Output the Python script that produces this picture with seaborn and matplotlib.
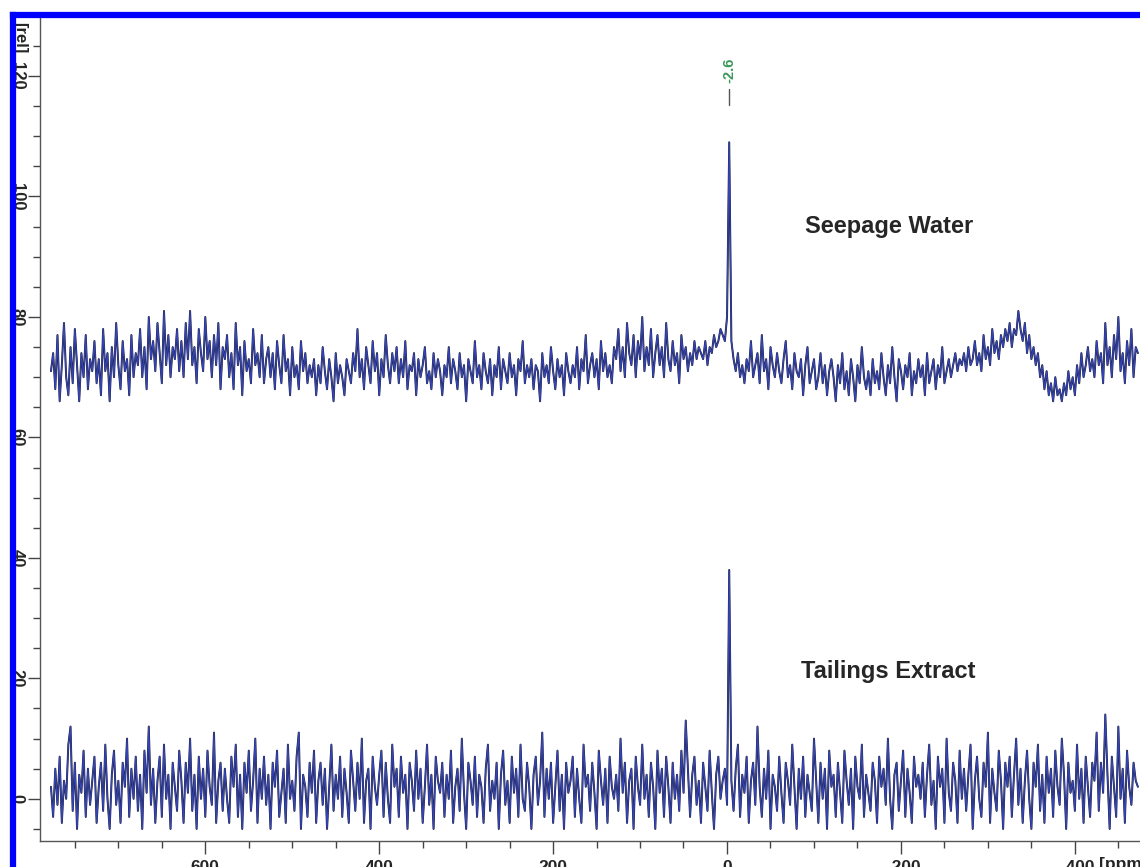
import numpy as np
import pandas as pd
import matplotlib
matplotlib.use("Agg")
import matplotlib.pyplot as plt
from matplotlib.lines import Line2D
from matplotlib.ticker import MultipleLocator
import seaborn as sns

# ==============================
# DATA
# ==============================
# chemical shift axis: 777.4 ppm down to -472.6 ppm in 2.5 ppm steps (peak sits at -2.6)
ppm_start = 777.4
ppm_step = 2.5

seepage = [
    71, 74, 68, 77, 66, 72, 79, 70, 67, 75, 69, 78, 72, 66, 74, 70, 77, 68, 73, 71,
    76, 69, 73, 67, 78, 71, 74, 66, 75, 70, 79, 72, 68, 76, 71, 73, 67, 77, 70, 74,
    72, 78, 70, 75, 68, 80, 73, 76, 71, 79, 74, 69, 81, 72, 77, 70, 75, 73, 78, 71,
    76, 70, 79, 73, 81, 72, 75, 69, 78, 74, 71, 80, 73, 76, 70, 77, 72, 79, 68, 75,
    73, 77, 70, 74, 68, 79, 72, 75, 67, 76, 71, 73, 69, 78, 72, 74, 70, 77, 69, 73,
    75, 70, 74, 68, 76, 72, 69, 77, 71, 73, 67, 75, 70, 72, 68, 76, 71, 74, 69, 72,
    70, 73, 67, 72, 69, 75, 71, 68, 73, 70, 66, 74, 69, 72, 70, 67, 73, 71, 69, 74,
    71, 78, 70, 73, 68, 75, 72, 69, 76, 71, 74, 67, 73, 70, 77, 72, 69, 74, 71, 75,
    69, 73, 70, 76, 68, 72, 71, 74, 67, 73, 70, 72, 75, 69, 71, 68, 74, 70, 73, 71,
    67, 72, 70, 75, 69, 73, 71, 68, 74, 70, 72, 66, 73, 71, 69, 76, 70, 72, 68, 74,
    71, 69, 73, 67, 72, 70, 75, 68, 73, 71, 69, 74, 70, 72, 67, 73, 71, 76, 69, 72,
    70, 73, 68, 72, 71, 66, 74, 70, 72, 69, 75, 71, 68, 73, 70, 72, 67, 74, 71, 69,
    72, 70, 75, 68, 73, 71, 77, 69, 72, 74, 70, 73, 68, 76, 71, 74, 70, 72, 69, 75,
    73, 78, 71, 75, 70, 79, 74, 72, 77, 70, 76, 73, 80, 71, 75, 72, 78, 70, 74, 77,
    72, 75, 70, 79, 73, 71, 76, 72, 74, 69, 77, 73, 75, 71, 74, 72, 76, 73, 75, 74,
    73, 76, 72, 75, 74, 77, 75, 76, 78, 77, 76, 80, 109, 76, 73, 71, 74, 70, 72, 69,
    73, 71, 76, 70, 72, 74, 69, 77, 71, 73, 68, 75, 72, 70, 74, 71, 69, 73, 76, 70,
    72, 68, 74, 71, 70, 73, 67, 72, 75, 69, 71, 73, 68, 70, 74, 69, 72, 67, 71, 73,
    70, 66, 72, 69, 74, 68, 71, 67, 73, 70, 66, 72, 69, 75, 70, 68, 71, 67, 73, 69,
    71, 68, 74, 70, 67, 72, 69, 75, 70, 66, 73, 71, 68, 72, 70, 74, 67, 71, 69, 73,
    70, 72, 67, 74, 69, 71, 73, 68, 72, 70, 75, 69, 71, 73, 70, 72, 74, 71, 73, 72,
    74, 71, 75, 72, 73, 76, 72, 74, 71, 77, 73, 75, 72, 78, 74, 76, 73, 77, 75, 78,
    76, 79, 75, 78, 77, 81, 78, 76, 79, 74, 77, 73, 75, 72, 74, 70, 72, 68, 71, 67,
    69, 66, 70, 67, 68, 66, 69, 67, 71, 68, 70, 67, 72, 69, 74, 70, 72, 75, 71, 73,
    70, 76, 72, 74, 69, 79, 72, 75, 70, 77, 73, 80, 71, 74, 69, 76, 72, 78, 70, 75,
    74,
]

tailings = [
    2, -3, 5, -1, 7, -4, 3, 0, 9, 12, -2, 6, -5, 4, 1, 8, -3, 5, -1, 3,
    7, -4, 2, 6, -2, 9, 0, -5, 4, 8, -1, 3, -4, 6, 2, 10, -3, 5, 0, 7,
    -2, 4, -5, 8, 1, 12, -1, 5, -4, 3, 7, -3, 9, 0, 4, -5, 6, 2, -2, 8,
    3, -4, 6, 1, 10, -2, 4, -5, 7, 0, 5, -3, 8, 2, -1, 11, -4, 3, 6, -2,
    5, 0, -4, 7, 2, 9, -3, 4, -5, 6, 1, 8, -2, 3, 10, -4, 5, 0, 7, -1,
    4, -5, 6, 2, 8, -3, 1, 5, -4, 9, 0, 3, -2, 7, 11, -5, 4, 2, -3, 6,
    1, 8, -4, 3, 6, -1, 5, -5, 2, 9, -2, 4, 0, 7, -3, 5, 1, -4, 8, 3,
    -2, 6, 0, 10, -4, 3, 5, -5, 7, 2, -1, 4, 8, -3, 6, 0, -4, 9, 2, 5,
    -3, 7, 1, 4, -5, 6, 3, -2, 8, 0, 5, -4, 2, 9, -1, 4, -5, 7, 3, 1,
    6, -3, 4, 0, 8, -4, 2, 5, -2, 10, 1, -5, 6, 3, -1, 7, -3, 4, 2, -4,
    5, 9, -2, 3, 0, 6, -5, 4, 8, -1, 3, -4, 7, 1, 5, -3, 9, 0, -2, 6,
    2, -5, 4, 7, -1, 3, 11, -3, 5, 0, 6, -4, 2, 8, -2, 4, -5, 6, 1, 3,
    7, -3, 5, 0, -4, 9, 2, 4, -2, 6, 1, -5, 8, 3, -1, 5, -4, 7, 2, 0,
    4, -2, 10, 1, 6, -4, 3, 5, -5, 7, 2, -1, 9, 0, 4, -3, 6, 2, -5, 8,
    1, 5, -3, 7, 2, -4, 6, 0, 4, -2, 8, 1, 13, 5, -3, 4, 7, -1, 3, -4,
    6, 2, -2, 8, 1, -5, 4, 7, 0, 3, 5, -1, 38, 3, -2, 5, 9, -3, 4, 1,
    7, -4, 3, 6, -1, 12, 2, -3, 5, 0, 8, -5, 4, 2, -2, 7, 1, -4, 6, 3,
    -1, 9, 2, -5, 5, 0, 7, -3, 4, 1, -2, 10, 3, -4, 6, 0, 5, -5, 8, 2,
    4, -3, 6, 1, -4, 8, 3, -1, 5, -5, 7, 2, 0, 9, -3, 4, 1, -2, 6, 3,
    -4, 7, 2, 5, -1, 10, 0, -5, 4, 6, -2, 3, 8, -3, 5, 1, -4, 7, 2, 4,
    0, 6, -3, 4, 9, -1, 3, -5, 7, 2, 5, -4, 10, 1, -2, 6, 3, -4, 8, 0,
    5, -2, 4, 9, -5, 3, 7, 0, -3, 6, 2, 11, -4, 5, 1, -2, 8, 3, -5, 6,
    2, 7, -3, 4, 10, -1, 5, -4, 3, 8, 0, -5, 6, 2, 9, -2, 4, -4, 7, 1,
    5, -3, 8, 2, -1, 10, 4, -5, 6, 1, 3, -2, 9, 0, 5, -4, 7, 2, -3, 6,
    3, 11, -2, 6, 1, 14, 4, -5, 7, 2, -3, 12, 0, 5, -4, 8, 2, -1, 6, 3,
    2,
]

peak_label = "-2.6"
peak_ppm = -2.6
x_ticks = [600, 400, 200, 0, -200, -400]
x_tick_labels = ["600", "400", "200", "0", "- 200", "- 400"]
y_ticks = [0, 20, 40, 60, 80, 100, 120]

ppm = ppm_start - ppm_step * np.arange(len(seepage))
df = pd.DataFrame({"ppm": np.concatenate([ppm, ppm]),
                   "intensity": seepage + tailings,
                   "sample": ["Seepage Water"] * len(ppm) + ["Tailings Extract"] * len(ppm)})

# ==============================
# PLOT
# ==============================
sns.set_style("ticks")
plt.rcParams['font.family'] = ['Liberation Sans', 'DejaVu Sans']

fig = plt.figure(figsize=(11.4, 8.67), dpi=100)
ax = fig.add_axes([40 / 1140, 1 - 841 / 867, 1 - 40 / 1140, (841 - 17) / 867])

for name in ["Seepage Water", "Tailings Extract"]:
    sub = df[df["sample"] == name]
    sns.lineplot(data=sub, x="ppm", y="intensity", sort=False, estimator=None,
                 color="#1c1c2c", linewidth=1.4, ax=ax)
    sns.lineplot(data=sub, x="ppm", y="intensity", sort=False, estimator=None,
                 color="#3444b4", linewidth=0.9, ax=ax)

ax.set_xlim(790, -475)
ax.set_ylim(-7, 129.8)
ax.set_xlabel("")
ax.set_ylabel("")

ax.set_xticks(x_ticks)
ax.set_xticklabels(x_tick_labels, fontsize=12.5, fontweight="bold")
ax.xaxis.set_minor_locator(MultipleLocator(50))
ax.set_yticks(y_ticks)
ax.set_yticklabels([str(v) for v in y_ticks], fontsize=12, fontweight="bold",
                   rotation=-90, va="center")
ax.yaxis.set_minor_locator(MultipleLocator(5))
ax.tick_params(which="major", length=9, width=1, color="#444444")
ax.tick_params(which="minor", length=5, width=1, color="#444444")
ax.tick_params(axis="y", pad=2)
ax.tick_params(axis="x", pad=5)

sns.despine(ax=ax, top=True, right=True)
for s in ["left", "bottom"]:
    ax.spines[s].set_color("#555555")
    ax.spines[s].set_linewidth(1)

# axis unit labels
ax.text(-0.012, 0.975, "[rel]", transform=ax.transAxes, rotation=-90,
        ha="right", va="center", fontsize=12, fontweight="bold")
ax.text(0.985, -0.019, "[ppm]", transform=ax.transAxes, ha="center", va="top",
        fontsize=12.5, fontweight="bold")

# peak label
ax.text(peak_ppm, 121, peak_label, rotation=90, ha="center", va="center",
        color="#3a9a5a", fontsize=10.5, fontweight="bold")
ax.plot([peak_ppm, peak_ppm], [115.2, 117.9], color="#555555", lw=1)

# sample names
ax.text(-187, 95.1, "Seepage Water", ha="center", va="center", fontsize=17, fontweight="bold")
ax.text(-185, 21.2, "Tailings Extract", ha="center", va="center", fontsize=17, fontweight="bold")

# blue frame
fx = 13 / 1140
fy = 1 - 14.5 / 867
fig.add_artist(Line2D([fx, fx], [-0.01, fy], color="#0000ff", lw=4.5, zorder=10,
                      solid_capstyle="projecting"))
fig.add_artist(Line2D([fx, 1.01], [fy, fy], color="#0000ff", lw=4.5, zorder=10,
                      solid_capstyle="projecting"))

fig.savefig("out.png", dpi=100)
